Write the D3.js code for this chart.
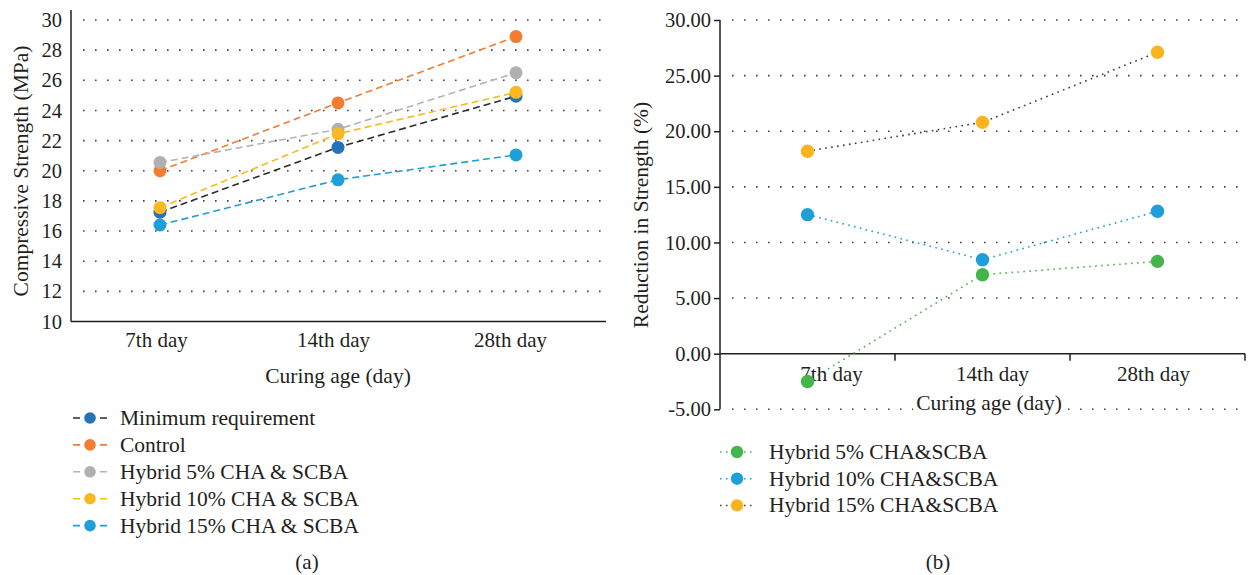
<!DOCTYPE html>
<html>
<head>
<meta charset="utf-8">
<script src="https://cdn.jsdelivr.net/npm/d3@7"></script>
<style>
  body { margin: 0; background: #fff; }
  svg { display: block; font-family: "Liberation Serif", "Times New Roman", serif; }
  .tick text { fill: #231f20; }
</style>
</head>
<body>
<svg width="1251" height="575"></svg>
<script>
// categories shared by both panels
var categories = ["7th day", "14th day", "28th day"];

// panel (a): compressive strength, MPa
var minimumRequirement = [17.25, 21.55, 24.95];
var control = [20.0, 24.5, 28.9];
var hybrid5 = [20.55, 22.75, 26.5];
var hybrid10 = [17.55, 22.45, 25.2];
var hybrid15 = [16.4, 19.4, 21.05];
var strengthTicks = [10, 12, 14, 16, 18, 20, 22, 24, 26, 28, 30];

// panel (b): reduction in strength, %
var reduction5 = [-2.5, 7.1, 8.3];
var reduction10 = [12.5, 8.45, 12.8];
var reduction15 = [18.2, 20.8, 27.1];
var reductionTicks = [-5, 0, 5, 10, 15, 20, 25, 30];

var svg = d3.select("svg");
var ink = "#231f20";

function gridLine(g, x1, x2, y) {
  g.append("line")
    .attr("x1", x1).attr("x2", x2)
    .attr("y1", y).attr("y2", y)
    .attr("stroke", "#444")
    .attr("stroke-width", 1.6)
    .attr("stroke-dasharray", "1.6,10.4");
}

// d3 axes force a sans font, take it back
function serifAxis(g, size) {
  g.attr("font-family", null).attr("font-size", size);
}

// ---------- panel (a) ----------
var seriesA = [
  { name: "Minimum requirement", values: minimumRequirement, line: "#2b2b2b", dot: "#2472b8" },
  { name: "Control", values: control, line: "#f47c30", dot: "#f47c30" },
  { name: "Hybrid 5% CHA & SCBA", values: hybrid5, line: "#b3b3b5", dot: "#b0b0b2" },
  { name: "Hybrid 10% CHA & SCBA", values: hybrid10, line: "#fbb81f", dot: "#fbb81f" },
  { name: "Hybrid 15% CHA & SCBA", values: hybrid15, line: "#1e9fd8", dot: "#1e9fd8" }
];

var xa = d3.scaleBand().domain(categories).range([71, 605]);
var xaLabels = d3.scalePoint().domain(categories).range([156, 510]);
var ya = d3.scaleLinear().domain([10, 30]).range([321.5, 20]);
var ga = svg.append("g");

strengthTicks.slice(1).forEach(function(t) {
  gridLine(ga, 83, 605, ya(t));
});

ga.append("g")
  .attr("transform", "translate(71,0)")
  .call(d3.axisLeft(ya).tickValues(strengthTicks).tickSize(0).tickPadding(9))
  .call(serifAxis, 20.5)
  .call(function(g) { g.select(".domain").remove(); });
ga.append("line")
  .attr("x1", 71).attr("x2", 71).attr("y1", 10).attr("y2", ya(10))
  .attr("stroke", ink).attr("stroke-width", 1.5);
ga.append("line")
  .attr("x1", 71).attr("x2", 606).attr("y1", ya(10)).attr("y2", ya(10))
  .attr("stroke", ink).attr("stroke-width", 1.5);

ga.append("g")
  .attr("transform", "translate(0," + ya(10) + ")")
  .call(d3.axisBottom(xaLabels).tickSize(0).tickPadding(11))
  .call(serifAxis, 21)
  .call(function(g) { g.select(".domain").remove(); });

var lineA = d3.line()
  .x(function(d, i) { return xa(categories[i]) + xa.bandwidth() / 2; })
  .y(function(d) { return ya(d); });

seriesA.forEach(function(s) {
  ga.append("path")
    .datum(s.values)
    .attr("fill", "none")
    .attr("stroke", s.line)
    .attr("stroke-width", 1.6)
    .attr("stroke-dasharray", "7,4")
    .attr("d", lineA);
});
seriesA.forEach(function(s) {
  ga.selectAll(null)
    .data(s.values)
    .enter().append("circle")
    .attr("cx", function(d, i) { return xa(categories[i]) + xa.bandwidth() / 2; })
    .attr("cy", function(d) { return ya(d); })
    .attr("r", 6.5)
    .attr("fill", s.dot);
});

ga.append("text")
  .attr("transform", "translate(28,171) rotate(-90)")
  .attr("text-anchor", "middle")
  .attr("font-size", 21.5)
  .attr("fill", ink)
  .text("Compressive Strength (MPa)");

ga.append("text")
  .attr("x", 338).attr("y", 383)
  .attr("text-anchor", "middle")
  .attr("font-size", 21.5)
  .attr("fill", ink)
  .text("Curing age (day)");

// legend (a)
var legA = ga.append("g").attr("transform", "translate(73,418)");
seriesA.forEach(function(s, i) {
  var row = legA.append("g").attr("transform", "translate(0," + (i * 26.9) + ")");
  row.append("line")
    .attr("x1", 0).attr("x2", 34)
    .attr("stroke", s.line).attr("stroke-width", 1.6)
    .attr("stroke-dasharray", "7,20");
  row.append("circle").attr("cx", 17).attr("r", 5.8).attr("fill", s.dot);
  row.append("text")
    .attr("x", 47).attr("y", 7)
    .attr("font-size", 21.5)
    .attr("fill", ink)
    .text(s.name);
});

ga.append("text")
  .attr("x", 307).attr("y", 569)
  .attr("text-anchor", "middle")
  .attr("font-size", 21)
  .attr("fill", ink)
  .text("(a)");

// ---------- panel (b) ----------
var seriesB = [
  { name: "Hybrid 5% CHA&SCBA", values: reduction5, line: "#44b54a", dot: "#44b54a" },
  { name: "Hybrid 10% CHA&SCBA", values: reduction10, line: "#1e9fd8", dot: "#1e9fd8" },
  { name: "Hybrid 15% CHA&SCBA", values: reduction15, line: "#3a3a3a", dot: "#fbb31f" }
];

var xb = d3.scaleBand().domain(categories).range([720, 1245]);
var xbLabels = d3.scalePoint().domain(categories).range([831, 1153]);
var yb = d3.scaleLinear().domain([-5, 30]).range([409.3, 20]);
var gb = svg.append("g");

reductionTicks.filter(function(t) { return t !== 0; }).forEach(function(t) {
  gridLine(gb, 732, 1245, yb(t));
});

gb.append("g")
  .attr("transform", "translate(720,0)")
  .call(d3.axisLeft(yb).tickValues(reductionTicks).tickSize(6).tickPadding(3)
    .tickFormat(function(d) { return d.toFixed(2); }))
  .call(serifAxis, 20.5)
  .call(function(g) {
    g.select(".domain").remove();
    g.selectAll("line").attr("stroke", ink).attr("stroke-width", 1.5);
  });
gb.append("line")
  .attr("x1", 720).attr("x2", 720).attr("y1", yb(30)).attr("y2", yb(-5))
  .attr("stroke", ink).attr("stroke-width", 1.5);

// zero line with ticks at band edges
gb.append("line")
  .attr("x1", 720).attr("x2", 1245).attr("y1", yb(0)).attr("y2", yb(0))
  .attr("stroke", ink).attr("stroke-width", 1.5);
gb.selectAll(null)
  .data(categories)
  .enter().append("line")
  .attr("x1", function(d) { return xb(d) + xb.bandwidth(); })
  .attr("x2", function(d) { return xb(d) + xb.bandwidth(); })
  .attr("y1", yb(0)).attr("y2", yb(0) + 7)
  .attr("stroke", ink).attr("stroke-width", 1.5);

var lineB = d3.line()
  .x(function(d, i) { return xb(categories[i]) + xb.bandwidth() / 2; })
  .y(function(d) { return yb(d); });

seriesB.forEach(function(s) {
  gb.append("path")
    .datum(s.values)
    .attr("fill", "none")
    .attr("stroke", s.line)
    .attr("stroke-width", 1.6)
    .attr("stroke-dasharray", "1.6,4.4")
    .attr("d", lineB);
});

gb.append("g")
  .attr("transform", "translate(0," + yb(0) + ")")
  .call(d3.axisBottom(xbLabels).tickSize(0).tickPadding(12))
  .call(serifAxis, 21)
  .call(function(g) { g.select(".domain").remove(); });

seriesB.forEach(function(s) {
  gb.selectAll(null)
    .data(s.values)
    .enter().append("circle")
    .attr("cx", function(d, i) { return xb(categories[i]) + xb.bandwidth() / 2; })
    .attr("cy", function(d) { return yb(d); })
    .attr("r", 6.7)
    .attr("fill", s.dot);
});

gb.append("text")
  .attr("transform", "translate(648,215) rotate(-90)")
  .attr("text-anchor", "middle")
  .attr("font-size", 21.5)
  .attr("fill", ink)
  .text("Reduction in Strength (%)");

var titleBox = gb.append("rect").attr("fill", "#fff");
var xTitle = gb.append("text")
  .attr("x", 989).attr("y", 410)
  .attr("text-anchor", "middle")
  .attr("font-size", 21.5)
  .attr("fill", ink)
  .text("Curing age (day)");
var bb = xTitle.node().getBBox();
titleBox
  .attr("x", bb.x - 3).attr("y", bb.y)
  .attr("width", bb.width + 6).attr("height", bb.height);

// legend (b)
var legB = gb.append("g").attr("transform", "translate(720,452)");
seriesB.forEach(function(s, i) {
  var row = legB.append("g").attr("transform", "translate(0," + (i * 26.7) + ")");
  row.append("line")
    .attr("x1", 0).attr("x2", 34)
    .attr("stroke", s.line).attr("stroke-width", 1.5)
    .attr("stroke-dasharray", "1.5,4.5");
  row.append("circle").attr("cx", 17).attr("r", 6.2).attr("fill", s.dot);
  row.append("text")
    .attr("x", 49).attr("y", 7)
    .attr("font-size", 21.5)
    .attr("fill", ink)
    .text(s.name);
});

gb.append("text")
  .attr("x", 938).attr("y", 569)
  .attr("text-anchor", "middle")
  .attr("font-size", 21)
  .attr("fill", ink)
  .text("(b)");
</script>
</body>
</html>
